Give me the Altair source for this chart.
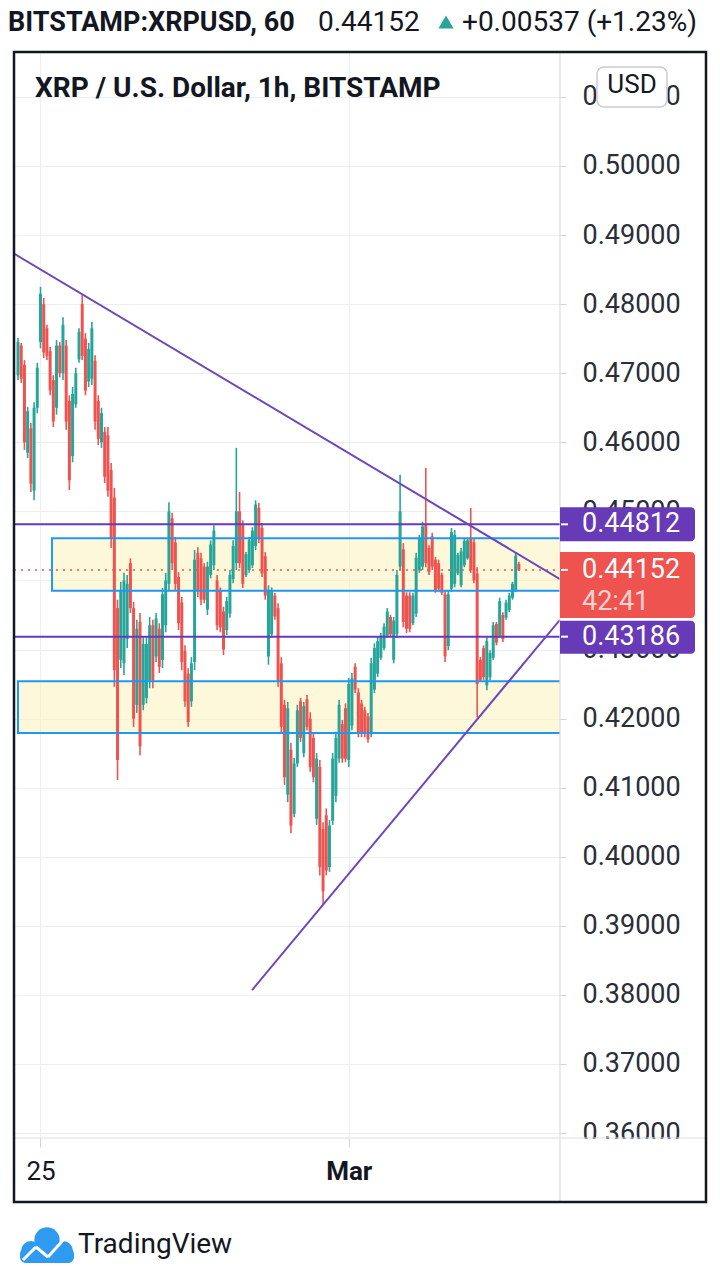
import altair as alt
import pandas as pd

# ---------------- data (hourly OHLC bars) ----------------
opens = [0.4697, 0.4740, 0.4712, 0.4585, 0.4620, 0.4530, 0.4650, 0.4745, 0.4800, 0.4765,
         0.4732, 0.4690, 0.4650, 0.4740, 0.4700, 0.4740, 0.4660, 0.4580, 0.4655, 0.4720,
         0.4800, 0.4750, 0.4688, 0.4692, 0.4718, 0.4660, 0.4600, 0.4615, 0.4610, 0.4560,
         0.4520, 0.4360, 0.4285, 0.4280, 0.4315, 0.4425, 0.4360, 0.4220, 0.4340, 0.4220,
         0.4230, 0.4255, 0.4335, 0.4290, 0.4330, 0.4285, 0.4335, 0.4395, 0.4490, 0.4455,
         0.4405, 0.4368, 0.4298, 0.4265, 0.4225, 0.4282, 0.4440, 0.4432, 0.4420, 0.4358,
         0.4408, 0.4422, 0.4400, 0.4385, 0.4355, 0.4328, 0.4352, 0.4402, 0.4425, 0.4500,
         0.4480, 0.4408, 0.4415, 0.4422, 0.4450, 0.4505, 0.4476, 0.4435, 0.4290, 0.4322,
         0.4378, 0.4360, 0.4280, 0.4220, 0.4090, 0.4155, 0.4062, 0.4135, 0.4225, 0.4150,
         0.4228, 0.4200, 0.4172, 0.4055, 0.4130, 0.4040, 0.4060, 0.3985, 0.4052, 0.4088,
         0.4142, 0.4192, 0.4215, 0.4140, 0.4190, 0.4275, 0.4238, 0.4222, 0.4212, 0.4203,
         0.4180, 0.4242, 0.4265, 0.4288, 0.4302, 0.4320, 0.4347, 0.4285, 0.4322, 0.4420,
         0.4445, 0.4378, 0.4378, 0.4338, 0.4352, 0.4415, 0.4420, 0.4480, 0.4447, 0.4464,
         0.4430, 0.4425, 0.4408, 0.4380, 0.4305, 0.4388, 0.4395, 0.4410, 0.4393, 0.4422,
         0.4432, 0.4460, 0.4455, 0.4410, 0.4285, 0.4302, 0.4248, 0.4260, 0.4288, 0.4337,
         0.4320, 0.4350, 0.4346, 0.4357, 0.4375, 0.4386, 0.4424]
highs = [0.4751, 0.4744, 0.4719, 0.4651, 0.4628, 0.4658, 0.4715, 0.4825, 0.4809, 0.4770,
         0.4738, 0.4697, 0.4748, 0.4745, 0.4781, 0.4748, 0.4668, 0.4680, 0.4708, 0.4765,
         0.4813, 0.4758, 0.4744, 0.4774, 0.4726, 0.4668, 0.4650, 0.4622, 0.4622, 0.4570,
         0.4534, 0.4372, 0.4398, 0.4411, 0.4408, 0.4432, 0.4369, 0.4343, 0.4353, 0.4318,
         0.4318, 0.4347, 0.4343, 0.4353, 0.4338, 0.4389, 0.4411, 0.4513, 0.4498, 0.4463,
         0.4412, 0.4376, 0.4306, 0.4273, 0.4289, 0.4444, 0.4448, 0.4440, 0.4425, 0.4427,
         0.4458, 0.4480, 0.4408, 0.4390, 0.4362, 0.4376, 0.4415, 0.4458, 0.4592, 0.4528,
         0.4487, 0.4441, 0.4463, 0.4477, 0.4516, 0.4512, 0.4483, 0.4441, 0.4393, 0.4390,
         0.4382, 0.4367, 0.4289, 0.4227, 0.4224, 0.4165, 0.4143, 0.4220, 0.4230, 0.4224,
         0.4234, 0.4209, 0.4179, 0.4150, 0.4140, 0.4050, 0.4070, 0.4053, 0.4150, 0.4181,
         0.4227, 0.4198, 0.4222, 0.4259, 0.4266, 0.4280, 0.4244, 0.4227, 0.4217, 0.4208,
         0.4288, 0.4309, 0.4318, 0.4324, 0.4338, 0.4360, 0.4350, 0.4347, 0.4415, 0.4553,
         0.4454, 0.4383, 0.4383, 0.4382, 0.4440, 0.4466, 0.4485, 0.4563, 0.4451, 0.4469,
         0.4434, 0.4430, 0.4411, 0.4386, 0.4386, 0.4476, 0.4473, 0.4440, 0.4447, 0.4461,
         0.4461, 0.4505, 0.4461, 0.4419, 0.4289, 0.4306, 0.4318, 0.4299, 0.4340, 0.4340,
         0.4375, 0.4354, 0.4372, 0.4382, 0.4398, 0.4441, 0.4427]
lows = [0.4690, 0.4686, 0.4589, 0.4577, 0.4528, 0.4516, 0.4642, 0.4736, 0.4722, 0.4719,
        0.4668, 0.4622, 0.4640, 0.4694, 0.4690, 0.4618, 0.4531, 0.4571, 0.4650, 0.4715,
        0.4719, 0.4668, 0.4680, 0.4683, 0.4618, 0.4596, 0.4592, 0.4541, 0.4521, 0.4447,
        0.4246, 0.4111, 0.4273, 0.4263, 0.4302, 0.4353, 0.4188, 0.4208, 0.4147, 0.4212,
        0.4222, 0.4244, 0.4244, 0.4282, 0.4266, 0.4273, 0.4325, 0.4386, 0.4415, 0.4386,
        0.4328, 0.4270, 0.4217, 0.4188, 0.4217, 0.4270, 0.4376, 0.4364, 0.4367, 0.4350,
        0.4403, 0.4415, 0.4328, 0.4325, 0.4292, 0.4321, 0.4346, 0.4396, 0.4415, 0.4418,
        0.4389, 0.4405, 0.4411, 0.4418, 0.4444, 0.4454, 0.4405, 0.4372, 0.4278, 0.4317,
        0.4343, 0.4246, 0.4179, 0.4104, 0.4079, 0.4034, 0.4057, 0.4130, 0.4166, 0.4144,
        0.4183, 0.4123, 0.4108, 0.4046, 0.3973, 0.3930, 0.3973, 0.3978, 0.4046, 0.4079,
        0.4136, 0.4136, 0.4137, 0.4130, 0.4183, 0.4237, 0.4173, 0.4173, 0.4173, 0.4165,
        0.4173, 0.4237, 0.4260, 0.4285, 0.4299, 0.4317, 0.4318, 0.4280, 0.4317, 0.4415,
        0.4332, 0.4324, 0.4325, 0.4335, 0.4347, 0.4411, 0.4415, 0.4419, 0.4408, 0.4415,
        0.4382, 0.4383, 0.4379, 0.4282, 0.4299, 0.4383, 0.4390, 0.4408, 0.4390, 0.4419,
        0.4430, 0.4411, 0.4396, 0.4202, 0.4253, 0.4256, 0.4241, 0.4256, 0.4285, 0.4306,
        0.4317, 0.4311, 0.4343, 0.4354, 0.4372, 0.4383, 0.4414]
closes = [0.4745, 0.4692, 0.4600, 0.4645, 0.4540, 0.4650, 0.4708, 0.4815, 0.4730, 0.4725,
          0.4675, 0.4630, 0.4740, 0.4700, 0.4770, 0.4630, 0.4545, 0.4670, 0.4700, 0.4760,
          0.4725, 0.4675, 0.4735, 0.4765, 0.4630, 0.4605, 0.4642, 0.4550, 0.4530, 0.4460,
          0.4270, 0.4140, 0.4385, 0.4400, 0.4395, 0.4360, 0.4200, 0.4330, 0.4160, 0.4308,
          0.4308, 0.4335, 0.4255, 0.4345, 0.4275, 0.4380, 0.4400, 0.4500, 0.4425, 0.4395,
          0.4338, 0.4282, 0.4225, 0.4195, 0.4280, 0.4430, 0.4385, 0.4372, 0.4372, 0.4420,
          0.4452, 0.4472, 0.4335, 0.4332, 0.4300, 0.4370, 0.4408, 0.4450, 0.4500, 0.4425,
          0.4395, 0.4438, 0.4458, 0.4472, 0.4510, 0.4460, 0.4410, 0.4378, 0.4385, 0.4385,
          0.4348, 0.4255, 0.4188, 0.4115, 0.4215, 0.4045, 0.4135, 0.4212, 0.4172, 0.4218,
          0.4188, 0.4130, 0.4115, 0.4142, 0.3985, 0.3950, 0.3980, 0.4045, 0.4142, 0.4172,
          0.4220, 0.4142, 0.4142, 0.4250, 0.4258, 0.4242, 0.4180, 0.4178, 0.4178, 0.4170,
          0.4280, 0.4302, 0.4312, 0.4320, 0.4333, 0.4355, 0.4322, 0.4342, 0.4408, 0.4500,
          0.4340, 0.4330, 0.4330, 0.4378, 0.4433, 0.4460, 0.4478, 0.4425, 0.4412, 0.4420,
          0.4386, 0.4388, 0.4382, 0.4290, 0.4380, 0.4470, 0.4466, 0.4437, 0.4442, 0.4457,
          0.4458, 0.4415, 0.4400, 0.4250, 0.4256, 0.4260, 0.4312, 0.4295, 0.4335, 0.4310,
          0.4370, 0.4315, 0.4368, 0.4378, 0.4395, 0.4436, 0.44152]

x_tick_values = [7, 103]          # Feb 25 00:00 and Mar 1 00:00 (bar index)
x_tick_labels = ["25", "Mar"]
y_tick_values = [0.36, 0.37, 0.38, 0.39, 0.40, 0.41, 0.42, 0.43,
                 0.44, 0.45, 0.46, 0.47, 0.48, 0.49, 0.50, 0.51]

level_prices = [0.44812, 0.43186]
level_labels = ["0.44812", "0.43186"]
last_price = 0.44152
last_label = "0.44152"
countdown = "42:41"

zone_start = [10.6, 0.0]
zone_end = [180.0, 180.0]
zone_low = [0.4385, 0.4179]
zone_high = [0.4461, 0.4254]

trend_down_x = [-1.25, 168.8]
trend_down_p = [0.4873, 0.4402]
trend_up_x = [72.9, 168.8]
trend_up_p = [0.3807, 0.4343]

header_symbol = "BITSTAMP:XRPUSD, 60"
header_price = "0.44152"
header_change = "+0.00537 (+1.23%)"
chart_title = "XRP / U.S. Dollar, 1h, BITSTAMP"
currency = "USD"
brand = "TradingView"

# ---------------- styling ----------------
GREEN = "#26a69a"
RED = "#ef5350"
PURPLE = "#673ab7"
BLUE = "#2196f3"
TEXT = "#131722"
GRID = "#eceef2"
SEP = "#dadde3"
FONT = "Roboto"

W, H = 546, 1086
XS = alt.Scale(domain=[-1.25, 168.8], nice=False, zero=False)
YS = alt.Scale(domain=[0.35928, 0.5165], nice=False, zero=False)

bars = pd.DataFrame({"i": list(range(len(opens))), "o": opens, "h": highs,
                     "l": lows, "c": closes})
color_cond = alt.condition("datum.c >= datum.o", alt.value(GREEN), alt.value(RED))

x_axis = alt.Axis(values=x_tick_values,
                  labelExpr="datum.value == %d ? '%s' : '%s'" % (x_tick_values[0], x_tick_labels[0], x_tick_labels[1]),
                  labelFontSize=26, labelFont=FONT, labelColor=TEXT,
                  labelFontWeight={"condition": {"test": "datum.value == %d" % x_tick_values[1], "value": "bold"},
                                   "value": "normal"},
                  tickSize=9, tickColor="#d1d4dc", labelPadding=11,
                  grid=True, gridColor=GRID, domain=False, title=None, labelFlush=False)
y_axis = alt.Axis(orient="right", values=y_tick_values, format=".5f",
                  labelFontSize=27, labelFont=FONT, labelColor="#2a2e39",
                  tickSize=6, tickColor="#d1d4dc", labelPadding=16,
                  grid=True, gridColor=GRID, domain=False, title=None,
                  labelOverlap=False, labelBound=False, labelFlush=False)

one = pd.DataFrame({"k": [1]})

# zones (fill below candles)
zones = pd.DataFrame({"x0": zone_start, "x1": zone_end, "lo": zone_low, "hi": zone_high})
zone_fill = alt.Chart(zones).mark_rect(fill="#fdf1b8", fillOpacity=0.5, clip=True).encode(
    x=alt.X("x0:Q", scale=XS, axis=x_axis), x2="x1:Q",
    y=alt.Y("lo:Q", scale=YS, axis=y_axis), y2="hi:Q")

wicks = alt.Chart(bars).mark_rule(strokeWidth=1.6).encode(
    x=alt.X("i:Q", scale=XS, axis=None), y=alt.Y("l:Q", scale=YS, axis=None), y2="h:Q",
    color=color_cond)
bodies = alt.Chart(bars).mark_rule(strokeWidth=3.0).encode(
    x=alt.X("i:Q", scale=XS, axis=None), y=alt.Y("o:Q", scale=YS, axis=None), y2="c:Q",
    color=color_cond)

zone_border = alt.Chart(zones).mark_rect(fillOpacity=0, stroke=BLUE, strokeWidth=2, clip=True).encode(
    x=alt.X("x0:Q", scale=XS, axis=None), x2="x1:Q",
    y=alt.Y("lo:Q", scale=YS, axis=None), y2="hi:Q")

levels = alt.Chart(pd.DataFrame({"p": level_prices})).mark_rule(color=PURPLE, strokeWidth=2).encode(
    y=alt.Y("p:Q", scale=YS, axis=None), x=alt.value(0), x2=alt.value(W))
last_line = alt.Chart(pd.DataFrame({"p": [last_price]})).mark_rule(
    color=RED, strokeWidth=1.6, strokeDash=[2, 5]).encode(
    y=alt.Y("p:Q", scale=YS, axis=None), x=alt.value(0), x2=alt.value(W))

trends = pd.DataFrame({"x": trend_down_x + trend_up_x, "p": trend_down_p + trend_up_p,
                       "g": ["down", "down", "up", "up"]})
trend_lines = alt.Chart(trends).mark_line(color="#6c46bd", strokeWidth=2, clip=True).encode(
    x=alt.X("x:Q", scale=XS, axis=None), y=alt.Y("p:Q", scale=YS, axis=None), detail="g:N")

# separators, cover, frame
cover = alt.Chart(one).mark_rect(fill="white").encode(
    x=alt.value(W + 1), x2=alt.value(691), y=alt.value(H + 1), y2=alt.value(H + 40))
vsep = alt.Chart(one).mark_rule(color=SEP, strokeWidth=1.2).encode(
    x=alt.value(W), y=alt.value(0), y2=alt.value(1150))
hsep = alt.Chart(one).mark_rule(color=SEP, strokeWidth=1.2).encode(
    x=alt.value(0), x2=alt.value(692), y=alt.value(H))
frame = alt.Chart(one).mark_rect(fillOpacity=0, stroke=TEXT, strokeWidth=2.5).encode(
    x=alt.value(0), x2=alt.value(692), y=alt.value(0), y2=alt.value(1150))


def price_tag(price, label, fill, top, bottom):
    df = pd.DataFrame({"p": [price], "t": [label]})
    box = alt.Chart(df).mark_rect(fill=fill, yOffset=top, y2Offset=bottom,
                                  cornerRadiusTopRight=4, cornerRadiusBottomRight=4).encode(
        x=alt.value(W), x2=alt.value(681), y=alt.Y("p:Q", scale=YS, axis=None), y2="p:Q")
    tick = alt.Chart(df).mark_rule(color="white", strokeWidth=2).encode(
        x=alt.value(W + 1), x2=alt.value(W + 8), y=alt.Y("p:Q", scale=YS, axis=None))
    txt = alt.Chart(df).mark_text(align="left", baseline="middle", font=FONT, fontSize=27,
                                  color="white").encode(
        x=alt.value(568), y=alt.Y("p:Q", scale=YS, axis=None), text="t:N")
    return [box, tick, txt]


tags = []
tags += price_tag(level_prices[0], level_labels[0], PURPLE, -17, 17)
tags += price_tag(last_price, last_label, RED, -18, 48)
tags += price_tag(level_prices[1], level_labels[1], PURPLE, -16, 17)
cd = alt.Chart(pd.DataFrame({"p": [last_price], "t": [countdown]})).mark_text(
    align="left", baseline="middle", font=FONT, fontSize=27, color="#fdd3d1", dy=32).encode(
    x=alt.value(568), y=alt.Y("p:Q", scale=YS, axis=None), text="t:N")

usd_box = alt.Chart(one).mark_rect(fill="white", stroke="#c9ccd2", strokeWidth=1.5, cornerRadius=7).encode(
    x=alt.value(583), x2=alt.value(653), y=alt.value(15), y2=alt.value(55))
usd_txt = alt.Chart(pd.DataFrame({"t": [currency]})).mark_text(
    font=FONT, fontSize=26, color=TEXT, align="center", baseline="middle").encode(
    x=alt.value(618), y=alt.value(33), text="t:N")

# header
def text_layer(s, x, y, size, weight="normal", color=TEXT, align="left"):
    return alt.Chart(pd.DataFrame({"t": [s]})).mark_text(
        font=FONT, fontSize=size, fontWeight=weight, color=color, align=align,
        baseline="middle").encode(x=alt.value(x), y=alt.value(y), text="t:N")

h1 = text_layer(header_symbol, -6, -29, 27, "bold")
h2 = text_layer(header_price, 304, -29, 28)
tri = alt.Chart(one).mark_point(shape="triangle-up", filled=True, color=GREEN, size=230, opacity=1).encode(
    x=alt.value(432), y=alt.value(-30))
h3 = text_layer(header_change, 448, -29, 28)
title = text_layer(chart_title, 21, 37, 28, "bold")
brand_txt = text_layer(brand, 64, 1193, 28)

# logo (cloud + white line)
cloud_pts = pd.DataFrame({"cx": [17, 33, 49], "cy": [1199, 1188, 1199], "s": [400, 640, 400]})
cloud = alt.Chart(cloud_pts).mark_circle(color="#2f9bf0", opacity=1).encode(
    x=alt.X("cx:Q", scale=alt.Scale(domain=[0, W], range=[0, W]), axis=None),
    y=alt.Y("cy:Q", scale=alt.Scale(domain=[0, H], range=[0, H]), axis=None),
    size=alt.Size("s:Q", scale=None, legend=None))
cloud_base = alt.Chart(one).mark_rect(color="#2f9bf0", cornerRadius=6).encode(
    x=alt.value(6), x2=alt.value(60), y=alt.value(1196), y2=alt.value(1211))
zig = []
for (a, b, c, d) in [(9, 1208, 22, 1195), (22, 1195, 34, 1205), (34, 1205, 50, 1187)]:
    zig.append(alt.Chart(one).mark_rule(color="white", strokeWidth=3).encode(
        x=alt.value(a), y=alt.value(b), x2=alt.value(c), y2=alt.value(d)))

layers = [zone_fill, wicks, bodies, zone_border, levels, last_line, trend_lines,
          cover, vsep, hsep, frame] + tags + [cd, usd_box, usd_txt, h1, h2, tri, h3, title,
                                              cloud_base, cloud] + zig + [brand_txt]

chart = alt.layer(*layers).resolve_scale(x="independent", y="independent").properties(
    width=W, height=H,
    padding={"left": 6, "top": 44, "right": 152, "bottom": 140},
    autosize=alt.AutoSizeParams(type="none"),
    background="white",
).configure_view(stroke=None)

chart.save("out.html", embed_options={"renderer": "svg", "actions": False})
